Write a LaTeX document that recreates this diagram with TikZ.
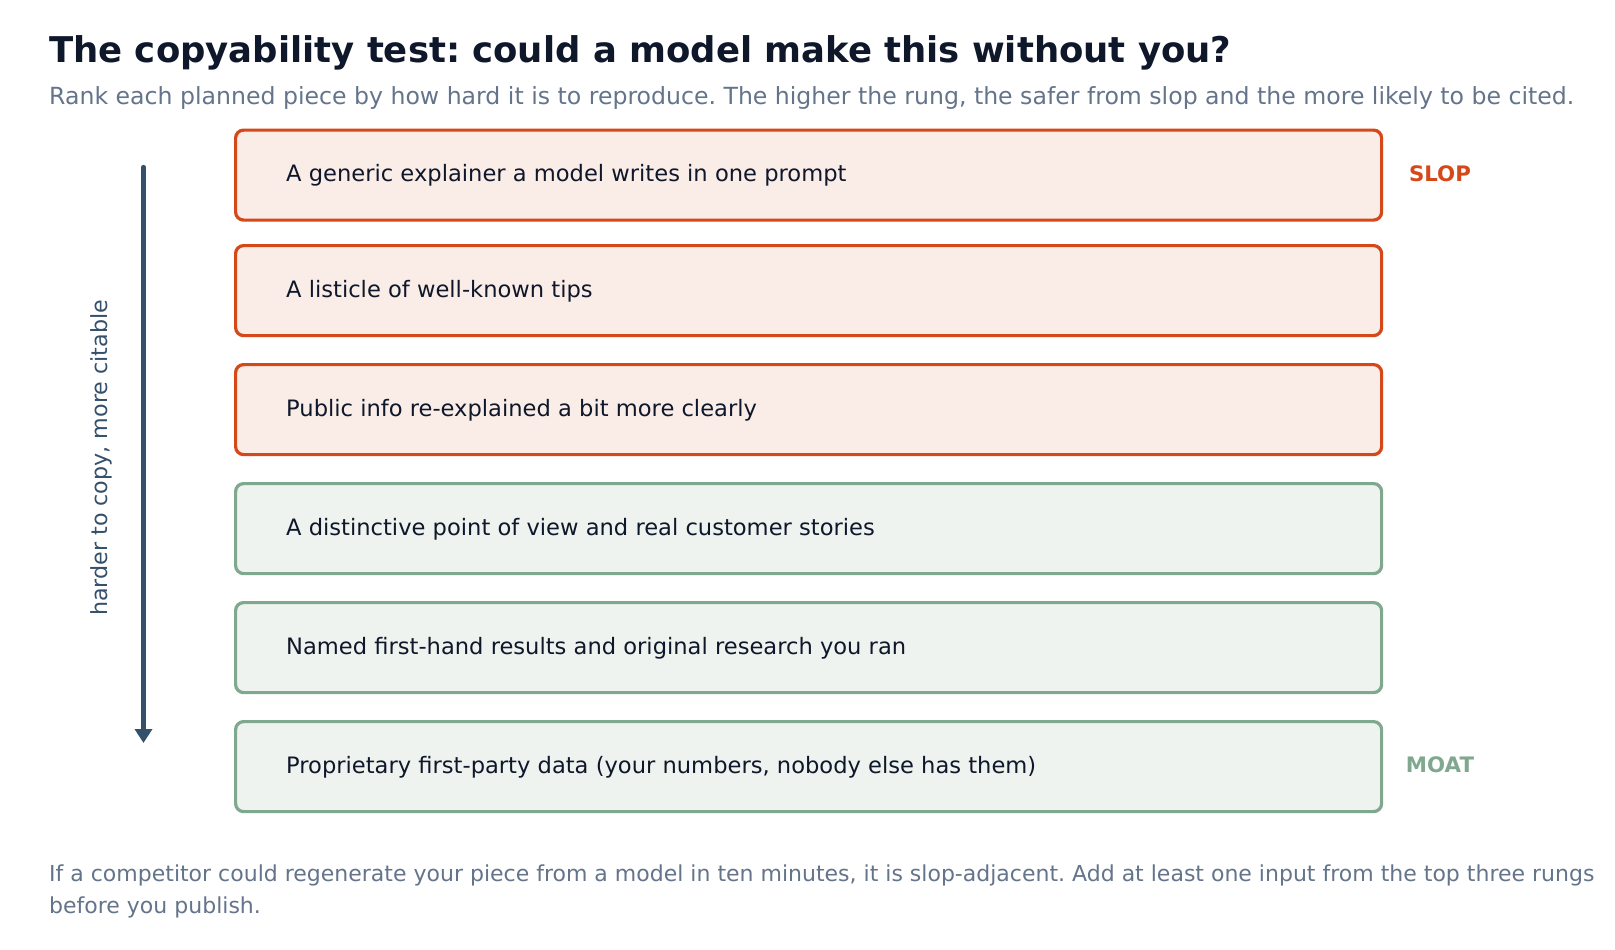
\documentclass[tikz,border=0pt]{standalone}
\usepackage{fontspec}
\setmainfont{DejaVu Sans}
\usetikzlibrary{arrows.meta}
\frenchspacing
\definecolor{titlec}{HTML}{0F172A}
\definecolor{subc}{HTML}{64748B}
\definecolor{slopc}{HTML}{D4481A}
\definecolor{slopfill}{HTML}{FAEDE8}
\definecolor{moatc}{HTML}{7FA88F}
\definecolor{moatfill}{HTML}{EEF3EF}
\definecolor{axisc}{HTML}{34506B}
\tikzset{
  rung/.style={draw, line width=3.2pt, rounded corners=8pt, minimum width=1146pt, minimum height=90pt, anchor=north west, inner sep=0pt},
  sloprung/.style={rung, draw=slopc, fill=slopfill},
  moatrung/.style={rung, draw=moatc, fill=moatfill},
  rungtext/.style={anchor=base west, inner sep=0pt, text=titlec, font=\fontsize{22.6}{27}\selectfont},
  tag/.style={anchor=center, inner sep=0pt, font=\fontsize{21.3}{25}\selectfont\bfseries},
  graytext/.style={anchor=base west, inner sep=0pt, text=subc},
}
\begin{document}
\begin{tikzpicture}[x=1pt,y=-1pt]
\useasboundingbox[fill=white] (0,0) rectangle (1615,950);
\node[anchor=base west, inner sep=0pt, text=titlec, font=\fontsize{35.45}{40}\selectfont\bfseries] (title) at (49,63) {The copyability test: could a model make this without you?};
\node[graytext, font=\fontsize{23.6}{28}\selectfont] (sub) at (49,104) {Rank each planned piece by how hard it is to reproduce. The higher the rung, the safer from slop and the more likely to be cited.};

\node[sloprung] (r1) at (234,128.5) {};
\node[sloprung] (r2) at (234,244) {};
\node[sloprung] (r3) at (234,363) {};
\node[moatrung] (r4) at (234,482) {};
\node[moatrung] (r5) at (234,601) {};
\node[moatrung] (r6) at (234,720) {};

\foreach \n/\t in {r1/{A generic explainer a model writes in one prompt},
                   r2/{A listicle of well-known tips},
                   r3/{Public info re-explained a bit more clearly},
                   r4/{A distinctive point of view and real customer stories},
                   r5/{Named first-hand results and original research you ran},
                   r6/{Proprietary first-party data (your numbers, nobody else has them)}}{
  \node[rungtext] (\n t) at ([xshift=52pt,yshift=-6.5pt]\n.west) {\t};
}

\node[tag, text=slopc] (slop) at (1440,173.5) {SLOP};
\node[tag, text=moatc] (moat) at (1440,765) {MOAT};

\coordinate (atop) at (143.5,167);
\coordinate (abot) at (143.5,743);
\draw[axisc, line width=4.2pt, line cap=round, -{Triangle[width=17pt,length=14pt]}] (atop) -- (abot);
\node[rotate=90, anchor=center, inner sep=0pt, text=axisc, font=\fontsize{22.2}{26}\selectfont] (axislabel) at (101,458) {harder to copy, more citable};

\node[graytext, font=\fontsize{22}{26}\selectfont] (foot1) at (49,881) {If a competitor could regenerate your piece from a model in ten minutes, it is slop-adjacent. Add at least one input from the top three rungs};
\node[graytext, font=\fontsize{22}{26}\selectfont] (foot2) at (49,913) {before you publish.};
\end{tikzpicture}
\end{document}
